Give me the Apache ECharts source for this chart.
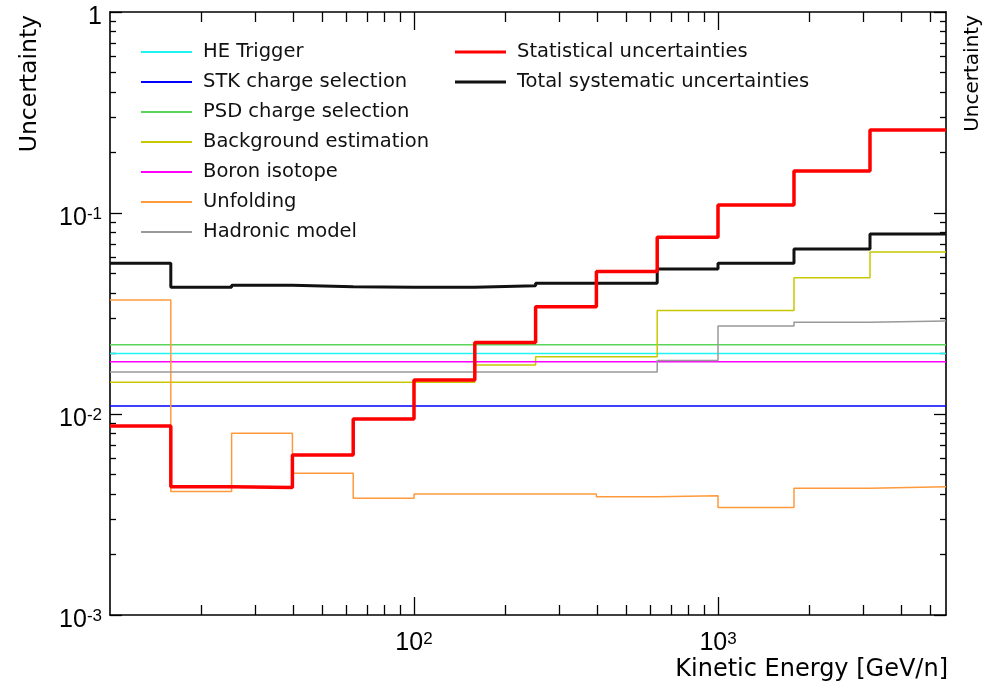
<!DOCTYPE html>
<html>
<head>
<meta charset="utf-8">
<script src="https://cdn.jsdelivr.net/npm/echarts@6/dist/echarts.min.js"></script>
<style>
  html, body { margin: 0; padding: 0; background: #fff; }
  #chart { width: 985px; height: 691px; }
</style>
</head>
<body>
<div id="chart"></div>
<script>
// Bin edges in kinetic energy [GeV/n]
const binEdges = [10, 15.85, 25.12, 39.81, 63.10, 100, 158.5, 251.2, 398.1, 631.0, 1000, 1778, 3162, 5623];

// Uncertainty per bin (13 bins)
const heTrigger   = [0.0200, 0.0200, 0.0200, 0.0200, 0.0200, 0.0200, 0.0200, 0.0200, 0.0200, 0.0200, 0.0200, 0.0200, 0.0200];
const stkCharge   = [0.01096, 0.01096, 0.01096, 0.01096, 0.01096, 0.01096, 0.01096, 0.01096, 0.01096, 0.01096, 0.01096, 0.01096, 0.01096];
const psdCharge   = [0.0221, 0.0221, 0.0221, 0.0221, 0.0221, 0.0221, 0.0221, 0.0221, 0.0221, 0.0221, 0.0221, 0.0221, 0.0221];
const background  = [0.01438, 0.01438, 0.01438, 0.01438, 0.01438, 0.01438, 0.01753, 0.01928, 0.01928, 0.0327, 0.0327, 0.04765, 0.0640];
const boronIso    = [0.0182, 0.0182, 0.0182, 0.0182, 0.0182, 0.0182, 0.0182, 0.0182, 0.0182, 0.0182, 0.0182, 0.0182, 0.0182];
const unfolding   = [0.0369, 0.00411, 0.00802, 0.00507, 0.00381, 0.00400, 0.00400, 0.00400, 0.00388, 0.00392, 0.00343, 0.00427, 0.00435];
const hadronic    = [0.01618, 0.01618, 0.01618, 0.01618, 0.01618, 0.01618, 0.01618, 0.01618, 0.01618, 0.01845, 0.0274, 0.0286, 0.0290];
const statUnc     = [0.00872, 0.00435, 0.00431, 0.00625, 0.00944, 0.01476, 0.0227, 0.0342, 0.0511, 0.0757, 0.1096, 0.1618, 0.2588];
const totalSys    = [0.0562, 0.0427, 0.0437, 0.0430, 0.0427, 0.0427, 0.0435, 0.0447, 0.0447, 0.0527, 0.0562, 0.0662, 0.0786];

// Axis ticks
const xMajorTicks = [100, 1000];
const xMinorTicks = [20, 30, 40, 50, 60, 70, 80, 90, 200, 300, 400, 500, 600, 700, 800, 900, 2000, 3000, 4000, 5000];
const yMajorTicks = [0.001, 0.01, 0.1, 1];
const yMinorTicks = [0.002, 0.003, 0.004, 0.005, 0.006, 0.007, 0.008, 0.009,
                     0.02, 0.03, 0.04, 0.05, 0.06, 0.07, 0.08, 0.09,
                     0.2, 0.3, 0.4, 0.5, 0.6, 0.7, 0.8, 0.9];

const legendLeft  = ['HE Trigger', 'STK charge selection', 'PSD charge selection', 'Background estimation', 'Boron isotope', 'Unfolding', 'Hadronic model'];
const legendRight = ['Statistical uncertainties', 'Total systematic uncertainties'];

function histData(vals) {
  const d = vals.map((v, i) => [binEdges[i], v]);
  d.push([binEdges[binEdges.length - 1], vals[vals.length - 1]]);
  return d;
}

function powLabel(v) {
  const e = Math.round(Math.log10(v));
  if (e === 0) return '{b|1}';
  return '{b|10}{s|' + e + '}';
}

const LABEL_FONT = 'Liberation Sans, Arial, Helvetica, sans-serif';
const TEXT_FONT = 'DejaVu Sans, sans-serif';
const labelRich = {
  b: { fontFamily: LABEL_FONT, fontSize: 25, color: '#000', verticalAlign: 'bottom' },
  s: { fontFamily: LABEL_FONT, fontSize: 17, color: '#000', verticalAlign: 'top' }
};

function mkAxis(kind, pos, ticks, len, withLine, withLabels) {
  const a = {
    type: 'log', logBase: 10,
    position: pos,
    min: kind === 'x' ? binEdges[0] : 0.001,
    max: kind === 'x' ? binEdges[binEdges.length - 1] : 1,
    axisLine: { show: withLine, onZero: false, lineStyle: { color: '#000', width: 1.6 } },
    axisTick: { show: true, inside: true, length: len, customValues: ticks, lineStyle: { color: '#000', width: 1.3 } },
    axisLabel: { show: false },
    splitLine: { show: false },
    minorTick: { show: false },
    minorSplitLine: { show: false }
  };
  if (withLabels) {
    a.axisLabel = {
      show: true, customValues: ticks, formatter: powLabel, rich: labelRich,
      margin: kind === 'x' ? 16 : 8,
      padding: kind === 'x' ? 0 : [10, 0, 0, 0]
    };
  }
  return a;
}

function lineSeries(name, vals, color, width) {
  return {
    name: name, type: 'line', step: 'end', data: histData(vals),
    xAxisIndex: 0, yAxisIndex: 0,
    symbol: 'none', showSymbol: false,
    lineStyle: { color: color, width: width },
    itemStyle: { color: color },
    emphasis: { disabled: true },
    clip: true
  };
}

const chart = echarts.init(document.getElementById('chart'), null, { renderer: 'canvas' });

const legendText = { fontFamily: TEXT_FONT, fontSize: 19.5, color: '#111', lineHeight: 20, padding: [0, 0, 0, 6] };

chart.setOption({
  animation: false,
  backgroundColor: '#fff',
  grid: { left: 110, right: 39, top: 12, bottom: 76, outerBoundsMode: 'none' },
  xAxis: [
    mkAxis('x', 'bottom', xMajorTicks, 18, true, true),
    mkAxis('x', 'bottom', xMinorTicks, 10, false, false),
    mkAxis('x', 'top', xMajorTicks, 18, true, false),
    mkAxis('x', 'top', xMinorTicks, 10, false, false)
  ],
  yAxis: [
    mkAxis('y', 'left', yMajorTicks, 12, true, true),
    mkAxis('y', 'left', yMinorTicks, 6, false, false),
    mkAxis('y', 'right', yMajorTicks, 12, true, false),
    mkAxis('y', 'right', yMinorTicks, 6, false, false)
  ],
  legend: [
    {
      data: legendLeft, orient: 'vertical', left: 141, top: 42, padding: 0,
      icon: 'rect', itemWidth: 51, itemHeight: 2, itemGap: 10,
      textStyle: legendText, selectedMode: false
    },
    {
      data: legendRight, orient: 'vertical', left: 455, top: 42, padding: 0,
      icon: 'rect', itemWidth: 51, itemHeight: 3, itemGap: 10,
      textStyle: legendText, selectedMode: false
    }
  ],
  graphic: [
    { type: 'text', x: 18, y: 15, rotation: Math.PI / 2,
      style: { text: 'Uncertainty', font: '23.5px ' + TEXT_FONT, fill: '#000', textAlign: 'right', textVerticalAlign: 'top' } },
    { type: 'text', x: 963, y: 15, rotation: Math.PI / 2,
      style: { text: 'Uncertainty', font: '20px ' + TEXT_FONT, fill: '#000', textAlign: 'right', textVerticalAlign: 'top' } },
    { type: 'text', x: 948, y: 658,
      style: { text: 'Kinetic Energy [GeV/n]', font: '24px ' + TEXT_FONT, fill: '#000', textAlign: 'right', textVerticalAlign: 'top' } }
  ],
  series: [
    lineSeries('HE Trigger', heTrigger, '#1ef4f4', 1.5),
    lineSeries('STK charge selection', stkCharge, '#0000ff', 1.5),
    lineSeries('PSD charge selection', psdCharge, '#5ad55a', 1.5),
    lineSeries('Background estimation', background, '#c8c800', 1.5),
    lineSeries('Boron isotope', boronIso, '#ff00ff', 1.5),
    lineSeries('Unfolding', unfolding, '#ff9a3c', 1.5),
    lineSeries('Hadronic model', hadronic, '#999999', 1.5),
    lineSeries('Total systematic uncertainties', totalSys, '#111111', 3),
    lineSeries('Statistical uncertainties', statUnc, '#ff0000', 3.5)
  ]
});
</script>
</body>
</html>
